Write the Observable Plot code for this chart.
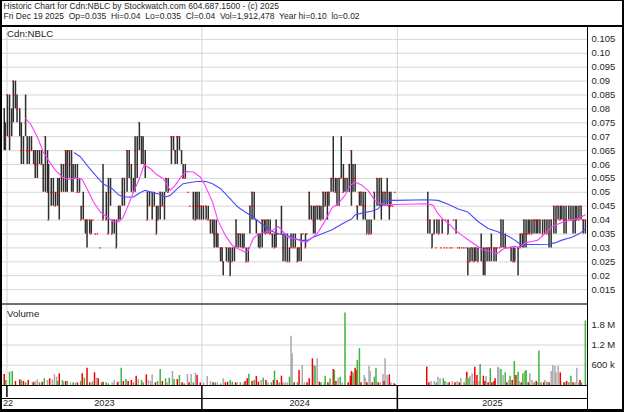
<!DOCTYPE html>
<html>
<head>
<meta charset="utf-8">
<script src="https://cdn.jsdelivr.net/npm/d3@7"></script>
<script src="https://cdn.jsdelivr.net/npm/@observablehq/plot@0.6"></script>
<style>
  html,body{margin:0;padding:0;background:#fff;}
  #chart{position:relative;width:624px;height:412px;overflow:hidden;background:#fff;
    font-family:"Liberation Sans",Arial,Helvetica,sans-serif;color:#1e1e1e;}
  #chart .abs{position:absolute;}
  #title{left:3.5px;top:0.5px;font-size:8.5px;line-height:10.6px;white-space:pre;}
  .panelLabel{font-size:9.7px;line-height:9.7px;white-space:pre;}
  .line{background:#000;}
  #frame{left:0;top:0;width:624px;height:412px;box-sizing:border-box;border-style:solid;border-color:#000;border-width:1px 2px 3px 2px;}
</style>
</head>
<body>
<div id="chart">
  <div id="title" class="abs"></div>
  <div id="price" class="abs" style="left:0;top:25px;"></div>
  <div id="volume" class="abs" style="left:0;top:304px;"></div>
  <div id="dates" class="abs" style="left:0;top:385px;"></div>
  <div id="priceLabel" class="abs panelLabel" style="left:7px;top:28.5px;"></div>
  <div id="volumeLabel" class="abs panelLabel" style="left:7px;top:308.5px;"></div>
  <div class="abs line" style="left:0;top:25px;width:624px;height:1.6px;"></div>
  <div class="abs" style="left:0;top:303px;width:587px;height:2px;background:#6f6f6f;"></div>
  <div class="abs line" style="left:0;top:384.5px;width:587px;height:1.5px;"></div>
  <div class="abs line" style="left:0;top:397.5px;width:587px;height:1.5px;"></div>
  <div class="abs line" style="left:586.8px;top:25px;width:1.6px;height:387px;"></div>
  <div id="frame" class="abs"></div>
</div>
<script>
// ---------- text ----------
const titleLines = [
  "Historic Chart for Cdn:NBLC by Stockwatch.com 604.687.1500 - (c) 2025",
  "Fri Dec 19 2025  Op=0.035  Hi=0.04  Lo=0.035  Cl=0.04  Vol=1,912,478  Year hi=0.10  lo=0.02"
];
const priceLabel = "Cdn:NBLC";
const volumeLabel = "Volume";

// ---------- axes ----------
const priceTicks = [0.015,0.02,0.025,0.03,0.035,0.04,0.045,0.05,0.055,0.06,0.065,0.07,0.075,0.08,0.085,0.09,0.095,0.10,0.105];
const priceTickLabels = ["0.015","0.02","0.025","0.03","0.035","0.04","0.045","0.05","0.055","0.06","0.065","0.07","0.075","0.08","0.085","0.09","0.095","0.10","0.105"];
const volumeTicks = [600000,1200000,1800000];
const volumeTickLabels = ["600 k","1.2 M","1.8 M"];
const yearValues = [2022, 2023, 2024, 2025];
const yearLabels = ["22","2023","2024","2025"];
const yearBoundaries = ["2023-01-01","2024-01-01","2025-01-01"];
const dateDomain = ["2022-12-20","2025-12-23"];

// ---------- daily bars: date, high, low, close ----------
const priceBars = [
["2022-12-21",0.10,0.01,null],
["2022-12-27",0.08,0.065,0.08],["2022-12-29",0.075,0.065,0.07],["2023-01-02",0.085,0.07,0.085],
["2023-01-06",0.085,0.065,0.07],["2023-01-10",0.08,0.07,0.075],["2023-01-13",0.09,0.075,0.09],
["2023-01-17",0.09,0.08,0.085],["2023-01-20",0.085,0.075,0.08],["2023-01-25",0.08,0.07,0.08],
["2023-01-28",0.075,0.06,0.065],["2023-02-01",0.07,0.06,0.065],["2023-02-05",0.085,0.07,0.075],
["2023-02-08",0.07,0.06,0.065],["2023-02-12",0.07,0.06,0.065],["2023-02-16",0.07,0.065,0.065],
["2023-02-20",0.065,0.06,0.065],["2023-02-23",0.065,0.055,0.06],["2023-02-27",0.065,0.055,0.06],
["2023-03-03",0.065,0.06,0.065],["2023-03-07",0.065,0.06,0.06],["2023-03-10",0.06,0.05,0.055],
["2023-03-14",0.07,0.05,0.07],["2023-03-18",0.065,0.05,0.05],["2023-03-20",0.06,0.04,0.04],
["2023-03-25",0.055,0.045,0.05],["2023-03-29",0.055,0.045,0.05],["2023-04-02",0.05,0.045,0.045],
["2023-04-06",0.055,0.045,0.05],["2023-04-09",0.055,0.04,0.05],["2023-04-13",0.06,0.05,0.06],
["2023-04-17",0.06,0.05,0.055],["2023-04-21",0.065,0.05,0.065],["2023-04-24",0.065,0.05,0.06],
["2023-04-28",0.065,0.055,0.065],["2023-05-02",0.065,0.05,0.06],["2023-05-05",0.06,0.05,0.055],
["2023-05-09",0.06,0.055,0.055],["2023-05-13",0.06,0.05,0.05],["2023-05-17",0.055,0.05,0.05],
["2023-05-20",0.045,0.04,0.04],["2023-05-24",0.05,0.04,0.045],["2023-05-28",0.04,0.035,0.04],
["2023-05-31",0.04,0.03,0.04],["2023-06-05",0.04,0.035,0.04],["2023-06-08",0.04,0.035,0.035],
["2023-06-12",0.04,0.04,0.04],["2023-06-16",0.035,0.035,0.035],["2023-06-20",0.035,0.035,0.035],
["2023-06-25",0.03,0.03,0.03],["2023-06-30",0.06,0.04,0.04],["2023-07-06",0.05,0.04,0.04],
["2023-07-10",0.055,0.035,0.035],["2023-07-14",0.055,0.045,0.05],["2023-07-17",0.04,0.035,0.035],
["2023-07-21",0.04,0.035,0.04],["2023-07-25",0.04,0.03,0.03],["2023-07-29",0.045,0.04,0.04],
["2023-08-01",0.045,0.04,0.045],["2023-08-05",0.055,0.045,0.05],["2023-08-09",0.055,0.045,0.055],
["2023-08-14",0.065,0.05,0.065],["2023-08-18",0.065,0.055,0.06],["2023-08-22",0.06,0.05,0.055],
["2023-08-26",0.055,0.05,0.05],["2023-08-29",0.07,0.05,0.065],["2023-09-02",0.07,0.055,0.06],
["2023-09-06",0.075,0.065,0.075],["2023-09-10",0.07,0.06,0.07],["2023-09-13",0.07,0.06,0.065],
["2023-09-17",0.065,0.055,0.06],["2023-09-21",0.05,0.04,0.04],["2023-09-25",0.05,0.045,0.045],
["2023-09-30",0.05,0.04,0.05],["2023-10-04",0.05,0.045,0.045],["2023-10-08",0.045,0.035,0.035],
["2023-10-11",0.045,0.04,0.04],["2023-10-15",0.05,0.04,0.05],["2023-10-19",0.05,0.045,0.045],
["2023-10-23",0.05,0.04,0.045],["2023-10-26",0.055,0.05,0.055],["2023-10-30",0.055,0.05,0.05],
["2023-11-05",0.07,0.06,0.07],["2023-11-09",0.07,0.065,0.07],["2023-11-12",0.065,0.06,0.065],
["2023-11-16",0.07,0.06,0.07],["2023-11-20",0.07,0.065,0.07],["2023-11-24",0.065,0.06,0.065],
["2023-11-27",0.06,0.055,0.055],["2023-12-01",0.06,0.055,0.055],["2023-12-07",0.05,0.05,0.05],
["2023-12-10",0.045,0.045,0.045],["2023-12-16",0.05,0.04,0.045],["2023-12-20",0.05,0.04,0.04],
["2023-12-23",0.05,0.04,0.045],["2023-12-27",0.05,0.04,0.045],["2023-12-31",0.045,0.04,0.045],
["2024-01-04",0.045,0.04,0.045],["2024-01-09",0.045,0.04,0.045],["2024-01-13",0.045,0.04,0.04],
["2024-01-17",0.04,0.035,0.04],["2024-01-21",0.04,0.035,0.04],["2024-01-24",0.04,0.03,0.035],
["2024-01-28",0.04,0.03,0.035],["2024-01-31",0.035,0.03,0.035],["2024-02-05",0.03,0.025,0.03],
["2024-02-08",0.03,0.025,0.03],["2024-02-10",0.025,0.02,0.025],["2024-02-16",0.03,0.025,0.03],
["2024-02-20",0.03,0.025,0.025],["2024-02-23",0.03,0.02,0.02],["2024-02-27",0.03,0.025,0.025],
["2024-03-02",0.03,0.025,0.03],["2024-03-05",0.04,0.03,0.04],["2024-03-09",0.035,0.03,0.035],
["2024-03-13",0.035,0.03,0.035],["2024-03-17",0.035,0.03,0.03],["2024-03-20",0.035,0.03,0.03],
["2024-03-24",0.03,0.025,0.025],["2024-03-28",0.03,0.025,0.025],["2024-03-31",0.045,0.035,0.045],
["2024-04-04",0.05,0.04,0.05],["2024-04-08",0.05,0.04,0.045],["2024-04-12",0.04,0.035,0.04],
["2024-04-16",0.035,0.03,0.035],["2024-04-19",0.035,0.03,0.03],["2024-04-23",0.04,0.03,0.04],
["2024-04-27",0.04,0.035,0.04],["2024-04-30",0.04,0.035,0.035],["2024-05-04",0.04,0.035,0.04],
["2024-05-08",0.04,0.035,0.035],["2024-05-12",0.035,0.03,0.035],["2024-05-16",0.035,0.03,0.03],
["2024-05-19",0.04,0.03,0.035],["2024-05-23",0.035,0.035,0.035],["2024-05-29",0.045,0.035,0.035],
["2024-06-01",0.035,0.025,0.03],["2024-06-05",0.035,0.025,0.03],["2024-06-09",0.035,0.025,0.025],
["2024-06-13",0.03,0.025,0.025],["2024-06-16",0.035,0.03,0.03],["2024-06-20",0.035,0.03,0.03],
["2024-06-24",0.035,0.03,0.03],["2024-06-28",0.03,0.025,0.025],["2024-07-01",0.03,0.025,0.03],
["2024-07-05",0.035,0.025,0.03],["2024-07-09",0.035,0.035,0.035],["2024-07-13",0.035,0.03,0.03],
["2024-07-16",0.035,0.035,0.035],["2024-07-20",0.05,0.04,0.05],["2024-07-24",0.045,0.04,0.045],
["2024-07-28",0.045,0.035,0.04],["2024-07-31",0.045,0.035,0.04],["2024-08-04",0.045,0.04,0.045],
["2024-08-08",0.045,0.04,0.045],["2024-08-11",0.045,0.04,0.04],["2024-08-15",0.05,0.04,0.05],
["2024-08-19",0.05,0.045,0.045],["2024-08-23",0.05,0.04,0.05],["2024-08-26",0.05,0.045,0.05],
["2024-08-30",0.055,0.05,0.055],["2024-09-03",0.07,0.05,0.055],["2024-09-07",0.055,0.05,0.05],
["2024-09-10",0.055,0.045,0.05],["2024-09-14",0.055,0.045,0.055],["2024-09-18",0.07,0.055,0.055],
["2024-09-22",0.06,0.05,0.05],["2024-09-25",0.055,0.05,0.055],["2024-09-29",0.055,0.05,0.055],
["2024-10-03",0.06,0.05,0.06],["2024-10-07",0.065,0.045,0.065],["2024-10-10",0.06,0.05,0.055],
["2024-10-14",0.06,0.05,0.055],["2024-10-18",0.045,0.04,0.045],["2024-10-22",0.05,0.045,0.05],
["2024-10-25",0.05,0.045,0.05],["2024-10-29",0.05,0.04,0.045],["2024-11-02",0.05,0.04,0.045],
["2024-11-05",0.04,0.035,0.035],["2024-11-09",0.04,0.035,0.035],["2024-11-13",0.04,0.035,0.035],
["2024-11-19",0.05,0.04,0.05],["2024-11-24",0.055,0.045,0.055],["2024-11-28",0.055,0.045,0.05],
["2024-12-02",0.055,0.04,0.055],["2024-12-05",0.05,0.045,0.05],["2024-12-09",0.05,0.045,0.05],
["2024-12-13",0.055,0.045,0.05],["2024-12-17",0.05,0.04,0.045],["2024-12-20",0.05,0.045,0.045],
["2024-12-24",0.045,0.045,0.045],["2024-12-28",0.05,0.05,0.05],
["2025-02-27",0.05,0.035,0.04],["2025-03-03",0.04,0.035,0.04],["2025-03-07",0.035,0.03,0.03],
["2025-03-11",0.04,0.035,0.035],["2025-03-15",0.03,0.03,0.03],["2025-03-16",0.04,0.035,0.04],
["2025-03-20",0.04,0.035,0.035],["2025-03-24",0.03,0.03,0.03],["2025-03-26",0.04,0.035,0.04],
["2025-03-30",0.03,0.03,0.03],["2025-04-02",0.04,0.04,0.04],["2025-04-04",0.03,0.03,0.03],
["2025-04-06",0.04,0.035,0.035],["2025-04-10",0.03,0.03,0.03],["2025-04-14",0.03,0.03,0.03],
["2025-04-17",0.04,0.04,0.04],["2025-04-21",0.04,0.035,0.04],["2025-04-25",0.03,0.03,0.03],
["2025-04-28",0.03,0.03,0.03],["2025-05-02",0.03,0.03,0.03],["2025-05-06",0.03,0.03,0.03],
["2025-05-10",0.03,0.03,0.03],["2025-05-13",0.03,0.02,0.025],["2025-05-17",0.03,0.025,0.025],
["2025-05-21",0.03,0.025,0.03],["2025-05-25",0.03,0.025,0.025],["2025-05-28",0.03,0.025,0.03],
["2025-06-01",0.03,0.025,0.025],["2025-06-07",0.035,0.025,0.03],["2025-06-11",0.03,0.02,0.025],
["2025-06-14",0.03,0.02,0.025],["2025-06-18",0.03,0.025,0.03],["2025-06-22",0.03,0.025,0.03],
["2025-06-26",0.035,0.025,0.03],["2025-07-01",0.03,0.025,0.03],["2025-07-05",0.03,0.025,0.03],
["2025-07-08",0.03,0.03,0.03],["2025-07-12",0.03,0.03,0.03],["2025-07-14",0.04,0.03,0.04],
["2025-07-18",0.04,0.03,0.035],["2025-07-22",0.035,0.03,0.03],["2025-07-25",0.03,0.03,0.03],
["2025-07-29",0.03,0.03,0.03],["2025-08-02",0.03,0.025,0.03],["2025-08-06",0.03,0.025,0.025],
["2025-08-09",0.03,0.025,0.025],["2025-08-15",0.03,0.02,0.03],["2025-08-19",0.035,0.03,0.03],
["2025-08-23",0.035,0.03,0.035],["2025-08-26",0.04,0.03,0.04],["2025-08-30",0.04,0.03,0.035],
["2025-09-03",0.04,0.035,0.035],["2025-09-06",0.04,0.035,0.035],["2025-09-10",0.04,0.035,0.035],
["2025-09-14",0.04,0.035,0.04],["2025-09-18",0.04,0.035,0.04],["2025-09-21",0.04,0.035,0.04],
["2025-09-25",0.04,0.035,0.04],["2025-09-30",0.04,0.035,0.035],["2025-10-04",0.04,0.035,0.04],
["2025-10-08",0.04,0.035,0.035],["2025-10-12",0.04,0.03,0.035],["2025-10-16",0.04,0.03,0.04],
["2025-10-21",0.045,0.035,0.045],["2025-10-25",0.045,0.035,0.04],["2025-10-29",0.045,0.04,0.045],
["2025-11-02",0.045,0.04,0.04],["2025-11-05",0.045,0.04,0.045],["2025-11-09",0.045,0.035,0.04],
["2025-11-13",0.045,0.035,0.04],["2025-11-18",0.045,0.04,0.045],["2025-11-22",0.045,0.04,0.04],
["2025-11-26",0.045,0.035,0.04],["2025-11-30",0.045,0.035,0.04],["2025-12-03",0.045,0.04,0.04],
["2025-12-07",0.045,0.04,0.04],["2025-12-11",0.045,0.04,0.045],["2025-12-15",0.04,0.035,0.04],
["2025-12-19",0.04,0.035,0.04]
];

// ---------- moving averages ----------
const fastMA = [
["2023-02-05",0.0765],["2023-02-14",0.0747],["2023-02-27",0.0699],["2023-03-10",0.0645],["2023-03-23",0.0606],
["2023-04-02",0.0579],["2023-04-15",0.0555],["2023-04-26",0.0546],["2023-05-09",0.0551],["2023-05-22",0.0546],
["2023-05-31",0.0513],["2023-06-12",0.0465],["2023-06-25",0.0429],["2023-07-08",0.0411],["2023-07-19",0.0395],
["2023-07-29",0.0393],["2023-08-07",0.0411],["2023-08-16",0.0453],["2023-08-26",0.0501],["2023-09-06",0.0549],
["2023-09-15",0.0599],["2023-09-27",0.0585],["2023-10-06",0.0567],["2023-10-21",0.0549],["2023-11-03",0.0507],
["2023-11-12",0.0525],["2023-11-25",0.0561],["2023-12-05",0.0575],["2023-12-16",0.0573],["2023-12-29",0.0555],
["2024-01-07",0.0525],["2024-01-21",0.0465],["2024-01-31",0.0399],["2024-02-14",0.0345],["2024-02-27",0.0309],
["2024-03-09",0.0297],["2024-03-22",0.0285],["2024-03-28",0.0291],["2024-04-06",0.0333],["2024-04-16",0.0351],
["2024-04-29",0.0357],["2024-05-12",0.0363],["2024-05-23",0.0377],["2024-05-30",0.0363],["2024-06-11",0.0337],
["2024-06-24",0.0333],["2024-07-07",0.0323],["2024-07-16",0.0321],["2024-07-26",0.0337],["2024-08-06",0.0357],
["2024-08-19",0.0399],["2024-09-01",0.0445],["2024-09-12",0.0459],["2024-09-25",0.0489],["2024-10-05",0.0525],
["2024-10-14",0.0537],["2024-10-27",0.0525],["2024-11-07",0.0507],["2024-11-20",0.0471],["2024-11-30",0.0459],
["2024-12-13",0.0456],["2024-12-28",0.0456],["2025-02-27",0.0459],["2025-03-09",0.0453],["2025-03-16",0.0429],
["2025-03-26",0.0405],["2025-04-06",0.0390],["2025-04-19",0.0365],["2025-05-02",0.0345],["2025-05-13",0.0330],
["2025-05-26",0.0312],["2025-06-09",0.0294],["2025-06-24",0.0287],["2025-07-07",0.0279],["2025-07-18",0.0296],
["2025-07-31",0.0303],["2025-08-09",0.0306],["2025-08-19",0.0302],["2025-08-28",0.0318],["2025-09-10",0.0323],
["2025-09-21",0.0328],["2025-10-04",0.0351],["2025-10-17",0.0375],["2025-10-29",0.0386],["2025-11-11",0.0396],
["2025-11-24",0.0400],["2025-12-05",0.0405],["2025-12-19",0.0419]
];
const slowMA = [
["2023-05-07",0.0642],["2023-05-19",0.0627],["2023-05-31",0.0597],["2023-06-16",0.0561],["2023-06-30",0.0531],
["2023-07-17",0.0513],["2023-07-29",0.0491],["2023-08-07",0.0483],["2023-08-26",0.0483],["2023-09-08",0.0499],
["2023-09-17",0.0507],["2023-09-30",0.0499],["2023-10-11",0.0495],["2023-10-25",0.0483],["2023-11-03",0.0489],
["2023-11-16",0.0513],["2023-11-27",0.0531],["2023-12-10",0.0535],["2023-12-23",0.0539],["2024-01-07",0.0540],
["2024-01-21",0.0531],["2024-02-05",0.0513],["2024-02-20",0.0483],["2024-03-07",0.0449],["2024-03-22",0.0429],
["2024-04-06",0.0411],["2024-04-23",0.0385],["2024-05-08",0.0363],["2024-05-23",0.0351],["2024-06-09",0.0345],
["2024-06-24",0.0333],["2024-07-07",0.0327],["2024-07-16",0.0327],["2024-07-26",0.0337],["2024-08-13",0.0351],
["2024-09-01",0.0365],["2024-09-20",0.0387],["2024-10-08",0.0405],["2024-10-14",0.0419],["2024-10-27",0.0425],
["2024-11-15",0.0433],["2024-11-26",0.0441],["2024-12-05",0.0465],["2024-12-15",0.0471],["2024-12-28",0.0471],
["2025-02-27",0.0473],["2025-03-18",0.0471],["2025-04-06",0.0457],["2025-04-25",0.0440],["2025-05-13",0.0429],
["2025-06-01",0.0395],["2025-06-20",0.0370],["2025-07-08",0.0358],["2025-07-27",0.0343],["2025-08-09",0.0328],
["2025-08-19",0.0313],["2025-09-03",0.0312],["2025-09-21",0.0312],["2025-10-10",0.0313],["2025-10-23",0.0318],
["2025-11-05",0.0328],["2025-11-24",0.0338],["2025-12-09",0.0353],["2025-12-19",0.0367]
];

// ---------- volume: date, shares, direction (u up / d down / n unchanged) ----------
const volumeBars = [
["2022-12-21",1480000,"u"],["2022-12-27",326000,"d"],["2022-12-30",148000,"u"],["2023-01-06",395000,"u"],
["2023-01-11",415000,"u"],["2023-01-17",119000,"d"],["2023-01-25",168000,"d"],["2023-01-28",148000,"u"],
["2023-02-01",119000,"d"],["2023-02-05",79000,"u"],["2023-02-10",148000,"d"],["2023-02-18",99000,"n"],
["2023-02-20",79000,"d"],["2023-02-23",119000,"n"],["2023-02-27",168000,"n"],["2023-03-03",79000,"u"],
["2023-03-08",99000,"d"],["2023-03-12",198000,"u"],["2023-03-18",148000,"n"],["2023-03-22",198000,"d"],
["2023-03-27",168000,"n"],["2023-03-31",316000,"n"],["2023-04-04",247000,"n"],["2023-04-06",119000,"u"],
["2023-04-09",346000,"d"],["2023-04-15",148000,"u"],["2023-04-17",99000,"n"],["2023-04-21",119000,"d"],
["2023-04-24",119000,"u"],["2023-04-30",79000,"n"],["2023-05-05",79000,"u"],["2023-05-09",69000,"n"],
["2023-05-13",79000,"d"],["2023-05-19",119000,"u"],["2023-05-22",346000,"d"],["2023-05-26",217000,"u"],
["2023-05-31",514000,"d"],["2023-06-05",79000,"d"],["2023-06-10",99000,"u"],["2023-06-14",375000,"d"],
["2023-06-18",217000,"n"],["2023-06-21",198000,"d"],["2023-06-27",79000,"u"],["2023-06-30",99000,"d"],
["2023-07-06",79000,"u"],["2023-07-10",49000,"u"],["2023-07-17",79000,"n"],["2023-07-21",148000,"n"],
["2023-07-27",79000,"d"],["2023-07-29",119000,"n"],["2023-08-03",514000,"u"],["2023-08-07",119000,"d"],
["2023-08-12",178000,"u"],["2023-08-16",119000,"d"],["2023-08-22",148000,"d"],["2023-08-26",79000,"u"],
["2023-08-31",277000,"d"],["2023-09-04",178000,"n"],["2023-09-10",148000,"u"],["2023-09-13",79000,"u"],
["2023-09-19",316000,"d"],["2023-09-23",148000,"n"],["2023-09-27",119000,"n"],["2023-09-30",316000,"n"],
["2023-10-06",79000,"d"],["2023-10-10",119000,"u"],["2023-10-15",474000,"u"],["2023-10-19",119000,"d"],
["2023-10-25",198000,"u"],["2023-10-28",79000,"n"],["2023-11-01",217000,"u"],["2023-11-07",415000,"n"],
["2023-11-10",178000,"u"],["2023-11-16",178000,"d"],["2023-11-20",296000,"u"],["2023-11-25",79000,"d"],
["2023-11-29",49000,"u"],["2023-12-05",326000,"n"],["2023-12-08",79000,"d"],["2023-12-12",326000,"n"],
["2023-12-16",79000,"u"],["2023-12-20",365000,"n"],["2023-12-23",296000,"d"],["2023-12-29",79000,"d"],
["2024-01-04",79000,"n"],["2024-01-11",267000,"n"],["2024-01-17",119000,"n"],["2024-01-22",79000,"d"],
["2024-01-26",79000,"u"],["2024-01-30",79000,"n"],["2024-02-05",49000,"u"],["2024-02-10",198000,"n"],
["2024-02-14",79000,"d"],["2024-02-18",99000,"d"],["2024-02-23",148000,"u"],["2024-02-27",99000,"u"],
["2024-03-04",79000,"d"],["2024-03-07",79000,"n"],["2024-03-13",79000,"u"],["2024-03-19",79000,"n"],
["2024-03-22",119000,"d"],["2024-03-26",198000,"d"],["2024-03-29",336000,"u"],["2024-04-04",119000,"d"],
["2024-04-08",148000,"u"],["2024-04-12",267000,"d"],["2024-04-16",99000,"d"],["2024-04-21",148000,"n"],
["2024-04-25",217000,"u"],["2024-04-30",148000,"d"],["2024-05-04",79000,"n"],["2024-05-10",79000,"u"],
["2024-05-14",148000,"d"],["2024-05-16",425000,"u"],["2024-05-21",148000,"d"],["2024-05-25",79000,"u"],
["2024-05-29",277000,"d"],["2024-06-01",79000,"n"],["2024-06-05",79000,"n"],["2024-06-09",79000,"n"],
["2024-06-13",247000,"u"],["2024-06-16",1460000,"n"],["2024-06-18",938000,"n"],["2024-06-22",79000,"d"],
["2024-06-28",79000,"u"],["2024-07-01",445000,"d"],["2024-07-07",593000,"n"],["2024-07-11",79000,"n"],
["2024-07-16",79000,"d"],["2024-07-20",198000,"d"],["2024-07-26",790000,"d"],["2024-07-29",593000,"n"],
["2024-07-31",573000,"u"],["2024-08-04",790000,"n"],["2024-08-08",99000,"d"],["2024-08-11",79000,"u"],
["2024-08-17",79000,"n"],["2024-08-19",277000,"u"],["2024-08-24",79000,"d"],["2024-08-28",198000,"u"],
["2024-09-03",474000,"d"],["2024-09-05",445000,"u"],["2024-09-08",119000,"d"],["2024-09-12",217000,"n"],
["2024-09-16",247000,"u"],["2024-09-20",79000,"n"],["2024-09-25",2150000,"u"],["2024-10-01",79000,"d"],
["2024-10-05",277000,"d"],["2024-10-07",415000,"d"],["2024-10-10",375000,"u"],["2024-10-14",514000,"d"],
["2024-10-16",435000,"d"],["2024-10-18",741000,"u"],["2024-10-22",1090000,"u"],["2024-10-25",79000,"d"],
["2024-10-31",296000,"n"],["2024-11-02",217000,"n"],["2024-11-05",79000,"d"],["2024-11-09",573000,"n"],
["2024-11-11",415000,"n"],["2024-11-15",79000,"d"],["2024-11-19",247000,"u"],["2024-11-22",514000,"u"],
["2024-11-26",79000,"d"],["2024-11-30",79000,"n"],["2024-12-05",326000,"n"],["2024-12-07",119000,"d"],
["2024-12-09",790000,"n"],["2024-12-13",296000,"n"],["2024-12-17",316000,"d"],["2024-12-20",79000,"n"],
["2024-12-26",49000,"d"],["2024-12-28",30000,"n"],
["2025-02-25",543000,"d"],["2025-03-01",79000,"d"],["2025-03-05",119000,"n"],["2025-03-11",119000,"n"],
["2025-03-15",79000,"u"],["2025-03-18",247000,"n"],["2025-03-22",198000,"n"],["2025-03-28",198000,"u"],
["2025-03-31",119000,"u"],["2025-04-04",79000,"n"],["2025-04-08",79000,"d"],["2025-04-14",119000,"n"],
["2025-04-19",79000,"d"],["2025-04-23",119000,"n"],["2025-04-27",79000,"d"],["2025-04-30",217000,"n"],
["2025-05-06",79000,"u"],["2025-05-10",217000,"u"],["2025-05-11",395000,"d"],["2025-05-15",217000,"u"],
["2025-05-17",277000,"n"],["2025-05-21",346000,"n"],["2025-05-25",119000,"n"],["2025-05-26",543000,"d"],
["2025-05-30",296000,"d"],["2025-06-03",119000,"n"],["2025-06-05",622000,"u"],["2025-06-11",277000,"d"],
["2025-06-14",119000,"d"],["2025-06-16",267000,"n"],["2025-06-20",79000,"d"],["2025-06-24",494000,"u"],
["2025-06-27",79000,"d"],["2025-07-01",119000,"d"],["2025-07-03",198000,"d"],["2025-07-08",543000,"n"],
["2025-07-10",514000,"n"],["2025-07-14",474000,"u"],["2025-07-18",296000,"n"],["2025-07-22",375000,"u"],
["2025-07-25",79000,"d"],["2025-07-29",148000,"n"],["2025-07-31",277000,"u"],["2025-08-04",148000,"d"],
["2025-08-08",711000,"u"],["2025-08-11",296000,"d"],["2025-08-15",395000,"u"],["2025-08-17",119000,"n"],
["2025-08-21",79000,"d"],["2025-08-24",346000,"u"],["2025-08-28",415000,"u"],["2025-08-30",445000,"u"],
["2025-09-03",79000,"d"],["2025-09-06",346000,"n"],["2025-09-10",148000,"n"],["2025-09-14",79000,"u"],
["2025-09-18",119000,"d"],["2025-09-21",79000,"n"],["2025-09-23",1020000,"u"],["2025-09-27",79000,"u"],
["2025-10-02",79000,"d"],["2025-10-04",148000,"n"],["2025-10-08",99000,"u"],["2025-10-12",79000,"d"],
["2025-10-16",415000,"n"],["2025-10-19",593000,"n"],["2025-10-23",563000,"n"],["2025-10-25",375000,"n"],
["2025-10-29",573000,"n"],["2025-11-02",375000,"d"],["2025-11-03",99000,"n"],["2025-11-09",79000,"d"],
["2025-11-11",79000,"n"],["2025-11-14",119000,"d"],["2025-11-18",79000,"u"],["2025-11-22",277000,"u"],
["2025-11-26",79000,"d"],["2025-11-30",79000,"n"],["2025-12-03",514000,"n"],["2025-12-07",79000,"n"],
["2025-12-09",148000,"d"],["2025-12-12",79000,"u"],["2025-12-19",1912478,"u"]
];

// ---------- build ----------
document.getElementById("title").textContent = titleLines.join("\n");
document.getElementById("priceLabel").textContent = priceLabel;
document.getElementById("volumeLabel").textContent = volumeLabel;

const D = s => new Date(s + "T00:00:00Z");
const DAY = 864e5;
const xDomain = dateDomain.map(D);
const yearStarts = yearBoundaries.map(D);
const bars = priceBars.map(([d,h,l,c]) => ({date: D(d), high: h, low: l, close: c}));
const fast = fastMA.map(([d,v]) => ({date: D(d), value: v}));
const slow = slowMA.map(([d,v]) => ({date: D(d), value: v}));
const vols = volumeBars.map(([d,v,k]) => ({date: D(d), volume: v, dir: k}));
const priceLabelMap = new Map(priceTicks.map((t,i) => [t, priceTickLabels[i]]));
const volLabelMap = new Map(volumeTicks.map((t,i) => [t, volumeTickLabels[i]]));
const FONT = "'Liberation Sans', Arial, Helvetica, sans-serif";
const baseStyle = {fontFamily: FONT, fontSize: "9.5px", color: "#1e1e1e", background: "transparent", overflow: "visible"};
const gridColor = "#d6d6d6";

const pricePlot = Plot.plot({
  width: 624, height: 278,
  marginTop: 0, marginBottom: 0, marginLeft: 0, marginRight: 37,
  style: baseStyle,
  x: {type: "utc", domain: xDomain, axis: null},
  y: {domain: [0.01, 0.11], axis: null},
  marks: [
    Plot.gridY(priceTicks, {stroke: gridColor, strokeOpacity: 1}),
    Plot.ruleX(yearStarts, {stroke: gridColor, strokeOpacity: 1}),
    Plot.ruleX(bars, {x: "date", y1: "low", y2: "high", stroke: "#111", strokeWidth: 1.5, strokeOpacity: 0.88}),
    Plot.ruleY(bars.filter(d => d.close != null), {
      y: "close",
      x1: d => new Date(+d.date - DAY),
      x2: d => new Date(+d.date + 1.5 * DAY),
      stroke: "#ff0000", strokeWidth: 1.3
    }),
    Plot.line(slow, {x: "date", y: "value", stroke: "#4a4aff", strokeWidth: 1.1}),
    Plot.line(fast, {x: "date", y: "value", stroke: "#ff3cff", strokeWidth: 1.1}),
    Plot.axisY(priceTicks, {anchor: "right", label: null, tickSize: 0, tickPadding: 4, tickFormat: d => priceLabelMap.get(d), fill: "#1e1e1e", fontSize: 9.5})
  ]
});
document.getElementById("price").appendChild(pricePlot);

const volColor = {u: "#3fb33f", d: "#f00000", n: "#a9a9a9"};
const volumePlot = Plot.plot({
  width: 624, height: 81,
  marginTop: 0, marginBottom: 0, marginLeft: 0, marginRight: 37,
  style: baseStyle,
  x: {type: "utc", domain: xDomain, axis: null},
  y: {domain: [0, 2400000], axis: null},
  marks: [
    Plot.gridY(volumeTicks, {stroke: gridColor, strokeOpacity: 1}),
    Plot.ruleX(yearStarts, {stroke: gridColor, strokeOpacity: 1}),
    ...["n", "d", "u"].map(k => Plot.ruleX(vols.filter(v => v.dir === k), {x: "date", y1: 0, y2: "volume", stroke: volColor[k], strokeWidth: 1.5})),
    Plot.axisY(volumeTicks, {anchor: "right", label: null, tickSize: 0, tickPadding: 4, tickFormat: d => volLabelMap.get(d), fill: "#1e1e1e", fontSize: 9.5})
  ]
});
document.getElementById("volume").appendChild(volumePlot);

// year labels: centred in the visible part of each year; the partial first year is left-aligned
const yearSpans = yearValues.map((y, i) => {
  const s = Math.max(Date.UTC(y, 0, 1), +xDomain[0]);
  const e = Math.min(Date.UTC(y + 1, 0, 1), +xDomain[1]);
  const partial = (e - s) < 60 * DAY;
  return {label: yearLabels[i], start: new Date(s), mid: new Date((s + e) / 2), partial};
});
const datePlot = Plot.plot({
  width: 624, height: 24,
  marginTop: 0, marginBottom: 0, marginLeft: 0, marginRight: 37,
  style: baseStyle,
  x: {type: "utc", domain: xDomain, axis: null},
  y: {domain: [0, 2], axis: null},
  marks: [
    Plot.ruleX(yearStarts.slice(0, 1), {y1: 1, y2: 2, stroke: "#000", strokeWidth: 1.5}),
    Plot.ruleX(yearStarts.slice(1), {y1: 0, y2: 2, stroke: "#000", strokeWidth: 1.5}),
    Plot.text(yearSpans.filter(d => !d.partial), {x: "mid", y: 0.5, text: "label", fontSize: 9.2, fill: "#1e1e1e"}),
    Plot.text(yearSpans.filter(d => d.partial), {x: "start", y: 0.5, text: "label", textAnchor: "start", dx: 2.5, fontSize: 9.2, fill: "#1e1e1e"})
  ]
});
document.getElementById("dates").appendChild(datePlot);
</script>
</body>
</html>
